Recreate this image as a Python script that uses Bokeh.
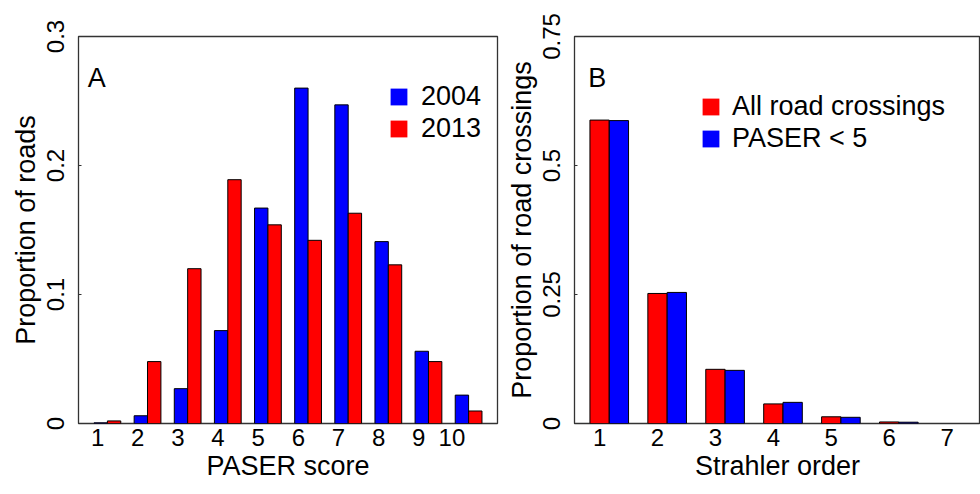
from bokeh.plotting import figure
from bokeh.models import Range1d, FixedTicker, Legend, LegendItem, Label, ColumnDataSource
from bokeh.layouts import row
from bokeh.embed import file_html
from bokeh.resources import INLINE

# ---------------- data ----------------
paser_scores = ["1", "2", "3", "4", "5", "6", "7", "8", "9", "10"]
paser_2004 = [0.0005, 0.006, 0.027, 0.072, 0.167, 0.260, 0.247, 0.141, 0.056, 0.022]
paser_2013 = [0.002, 0.048, 0.120, 0.189, 0.154, 0.142, 0.163, 0.123, 0.048, 0.0097]

strahler_orders = ["1", "2", "3", "4", "5", "6", "7"]
all_crossings = [0.588, 0.252, 0.105, 0.038, 0.013, 0.003, 0.0]
paser_lt5 = [0.587, 0.254, 0.103, 0.041, 0.012, 0.0025, 0.0]

yticks_a = [0, 0.1, 0.2, 0.3]
yticks_b = [0, 0.25, 0.5, 0.75]

FONT = "Liberation Sans"
BLUE = "#0000FF"
RED = "#FF0000"
TICK_SIZE = "24px"
TITLE_SIZE = "27px"


def style(p):
    p.background_fill_color = "white"
    p.border_fill_color = "white"
    p.outline_line_color = "#333333"
    p.outline_line_width = 1.3
    p.xgrid.visible = False
    p.ygrid.visible = False
    for ax in (p.xaxis[0], p.yaxis[0]):
        ax.axis_line_color = None
        ax.minor_tick_line_color = None
        ax.major_label_text_font = FONT
        ax.major_label_text_font_size = TICK_SIZE
        ax.major_label_text_color = "black"
        ax.axis_label_text_font = FONT
        ax.axis_label_text_font_size = TITLE_SIZE
        ax.axis_label_text_font_style = "normal"
        ax.axis_label_text_color = "black"
    p.xaxis.major_tick_line_color = None
    p.xaxis.major_tick_out = 0
    p.xaxis.major_tick_in = 0
    p.xaxis.major_label_standoff = 5
    p.xaxis.axis_label_standoff = 2
    p.yaxis.major_tick_line_color = "#333333"
    p.yaxis.major_tick_out = 0
    p.yaxis.major_tick_in = 3
    p.yaxis.major_label_orientation = "vertical"
    p.yaxis.major_label_standoff = 15
    p.yaxis.axis_label_standoff = 3


def bars(p, xs, ys, color):
    pts = [(x, y) for x, y in zip(xs, ys) if y > 0]
    src = ColumnDataSource(dict(x=[a for a, _ in pts], top=[b for _, b in pts]))
    fill = p.vbar(x="x", top="top", bottom=0, width=1.0, source=src,
                  fill_color=color, line_color=None)
    p.vbar(x="x", top="top", bottom=0, width=1.0, source=src,
           fill_color=None, line_color="black", line_width=1)
    return fill


def legend(p, entries, vx, vy, standoff):
    items = [LegendItem(label=label, renderers=[r]) for label, r in entries]
    lg = Legend(items=items, location=(vx, vy), padding=0, margin=0, spacing=1,
                glyph_width=21, glyph_height=21, label_standoff=standoff,
                label_text_font=FONT, label_text_font_size=TITLE_SIZE,
                label_text_color="black", border_line_color=None,
                background_fill_alpha=0)
    p.add_layout(lg)


# ---------------- panel A ----------------
pa = figure(width=503, height=494, output_backend="svg", toolbar_location=None,
            x_range=Range1d(-0.16, 31.16), y_range=Range1d(0, 0.3),
            min_border_left=78, min_border_right=6, min_border_top=36,
            min_border_bottom=71, x_axis_label="PASER score",
            y_axis_label="Proportion of roads")
style(pa)
xa_blue = [3 * i + 1.5 for i in range(len(paser_scores))]
xa_red = [3 * i + 2.5 for i in range(len(paser_scores))]
ra_blue = bars(pa, xa_blue, paser_2004, BLUE)
ra_red = bars(pa, xa_red, paser_2013, RED)
xt_a = [3 * i + 1.27 for i in range(len(paser_scores) - 1)] + [3 * (len(paser_scores) - 1) + 0.75]
pa.xaxis.ticker = FixedTicker(ticks=xt_a)
pa.xaxis.major_label_overrides = {t: s for t, s in zip(xt_a, paser_scores)}
pa.yaxis.ticker = FixedTicker(ticks=yticks_a)
pa.yaxis.major_label_overrides = {0: "0", 0.1: "0.1", 0.2: "0.2", 0.3: "0.3"}
legend(pa, [("2004", ra_blue), ("2013", ra_red)], 310, 279, 12)
pa.add_layout(Label(x=0.53, y=0.2675, text="A", text_font=FONT,
                    text_font_size=TITLE_SIZE, text_color="black",
                    text_baseline="alphabetic", text_align="left"))

# ---------------- panel B ----------------
pb = figure(width=477, height=494, output_backend="svg", toolbar_location=None,
            x_range=Range1d(0.2, 0.2 + 408 / 19.4), y_range=Range1d(0, 0.75),
            min_border_left=69, min_border_right=0, min_border_top=36,
            min_border_bottom=71, x_axis_label="Strahler order",
            y_axis_label="Proportion of road crossings")
style(pb)
xb_red = [3 * i + 1.5 for i in range(len(strahler_orders))]
xb_blue = [3 * i + 2.5 for i in range(len(strahler_orders))]
rb_red = bars(pb, xb_red, all_crossings, RED)
rb_blue = bars(pb, xb_blue, paser_lt5, BLUE)
pb.xaxis.ticker = FixedTicker(ticks=xb_red)
pb.xaxis.major_label_overrides = {t: s for t, s in zip(xb_red, strahler_orders)}
pb.yaxis.ticker = FixedTicker(ticks=yticks_b)
pb.yaxis.major_label_overrides = {0: "0", 0.25: "0.25", 0.5: "0.5", 0.75: "0.75"}
legend(pb, [("All road crossings", rb_red), ("PASER < 5", rb_blue)], 126, 269, 11)
pb.add_layout(Label(x=0.91, y=0.669, text="B", text_font=FONT,
                    text_font_size=TITLE_SIZE, text_color="black",
                    text_baseline="alphabetic", text_align="left"))

layout = row(pa, pb, spacing=0)
open("out.html", "w").write(file_html(layout, INLINE))
